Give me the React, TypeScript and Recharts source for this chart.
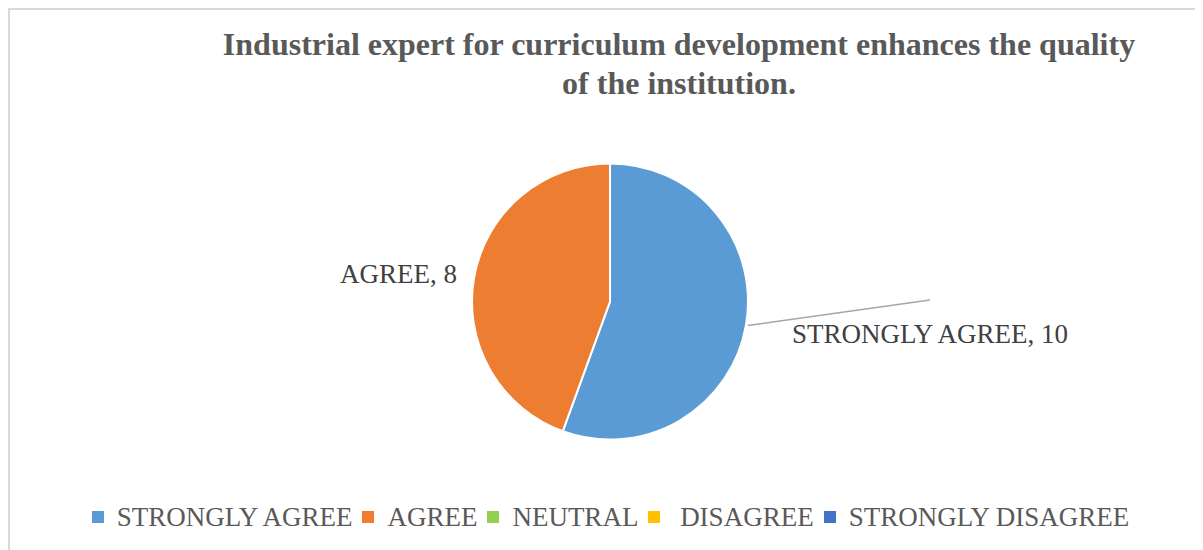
import React from "react";
import { PieChart, Pie, Cell, Legend } from "recharts";

const categories = ["STRONGLY AGREE", "AGREE", "NEUTRAL", "DISAGREE", "STRONGLY DISAGREE"];
const legendLabels = ["STRONGLY AGREE", "AGREE", "NEUTRAL", " DISAGREE", "STRONGLY DISAGREE"];
const values = [10, 8, 0, 0, 0];
const colors = ["#5B9BD5", "#ED7D31", "#92D050", "#FFC000", "#4472C4"];
const titleLines = [
  "Industrial expert for curriculum development enhances the quality",
  "of the institution.",
];

const data = categories.map((name, i) => ({ name, value: values[i] }));

const FONT = "'Liberation Serif', 'Times New Roman', serif";
const RAD = Math.PI / 180;

const renderLabel = (props: any) => {
  const { cx, cy, midAngle, outerRadius, name, value } = props;
  if (!value) return null;
  const ex = cx + outerRadius * Math.cos(-midAngle * RAD);
  const ey = cy + outerRadius * Math.sin(-midAngle * RAD);
  const right = Math.cos(-midAngle * RAD) > 0;
  const text = `${name}, ${value}`;
  if (right) {
    return (
      <g>
        <line x1={ex + 2} y1={ey} x2={ex + 184} y2={ey - 25.5} stroke="#A6A6A6" strokeWidth={1.5} />
        <text x={ex + 46} y={ey + 17.5} textAnchor="start" fontFamily={FONT} fontSize={27} fill="#404040">
          {text}
        </text>
      </g>
    );
  }
  return (
    <text x={ex - 17} y={ey + 5.5} textAnchor="end" fontFamily={FONT} fontSize={27} fill="#404040">
      {text}
    </text>
  );
};

const LegendContent = () => (
  <div
    style={{
      display: "flex",
      justifyContent: "center",
      alignItems: "center",
      fontFamily: FONT,
      fontSize: 27,
      lineHeight: "30px",
      color: "#595959",
      whiteSpace: "pre",
    }}
  >
    {legendLabels.map((l, i) => (
      <span key={i} style={{ display: "inline-flex", alignItems: "center", marginRight: 10 }}>
        <span
          style={{
            display: "inline-block",
            width: 12,
            height: 12,
            background: colors[i],
            marginRight: 13,
          }}
        />
        <span>{l}</span>
      </span>
    ))}
  </div>
);

export default function App() {
  return (
    <div
      style={{
        position: "relative",
        width: 1200,
        height: 545,
        border: "2px solid #D9D9D9",
        background: "#fff",
      }}
    >
      <div
        style={{
          position: "absolute",
          left: 169,
          top: 15,
          width: 1000,
          textAlign: "center",
          fontFamily: FONT,
          fontWeight: "bold",
          fontSize: 32,
          lineHeight: "39px",
          color: "#595959",
          zIndex: 2,
        }}
      >
        {titleLines.map((t, i) => (
          <div key={i}>{t}</div>
        ))}
      </div>
      <PieChart width={1200} height={545} margin={{ top: 0, right: 0, bottom: 0, left: 0 }}>
        <Pie
          data={data}
          dataKey="value"
          nameKey="name"
          cx={600}
          cy={291.5}
          outerRadius={138}
          startAngle={90}
          endAngle={-270}
          stroke="#FFFFFF"
          strokeWidth={2}
          label={renderLabel}
          labelLine={false}
          isAnimationActive={false}
        >
          {data.map((d, i) => (
            <Cell key={d.name} fill={colors[i]} />
          ))}
        </Pie>
        <Legend
          content={<LegendContent />}
          wrapperStyle={{ position: "absolute", top: 492, left: 0, width: 1211 }}
        />
      </PieChart>
    </div>
  );
}
